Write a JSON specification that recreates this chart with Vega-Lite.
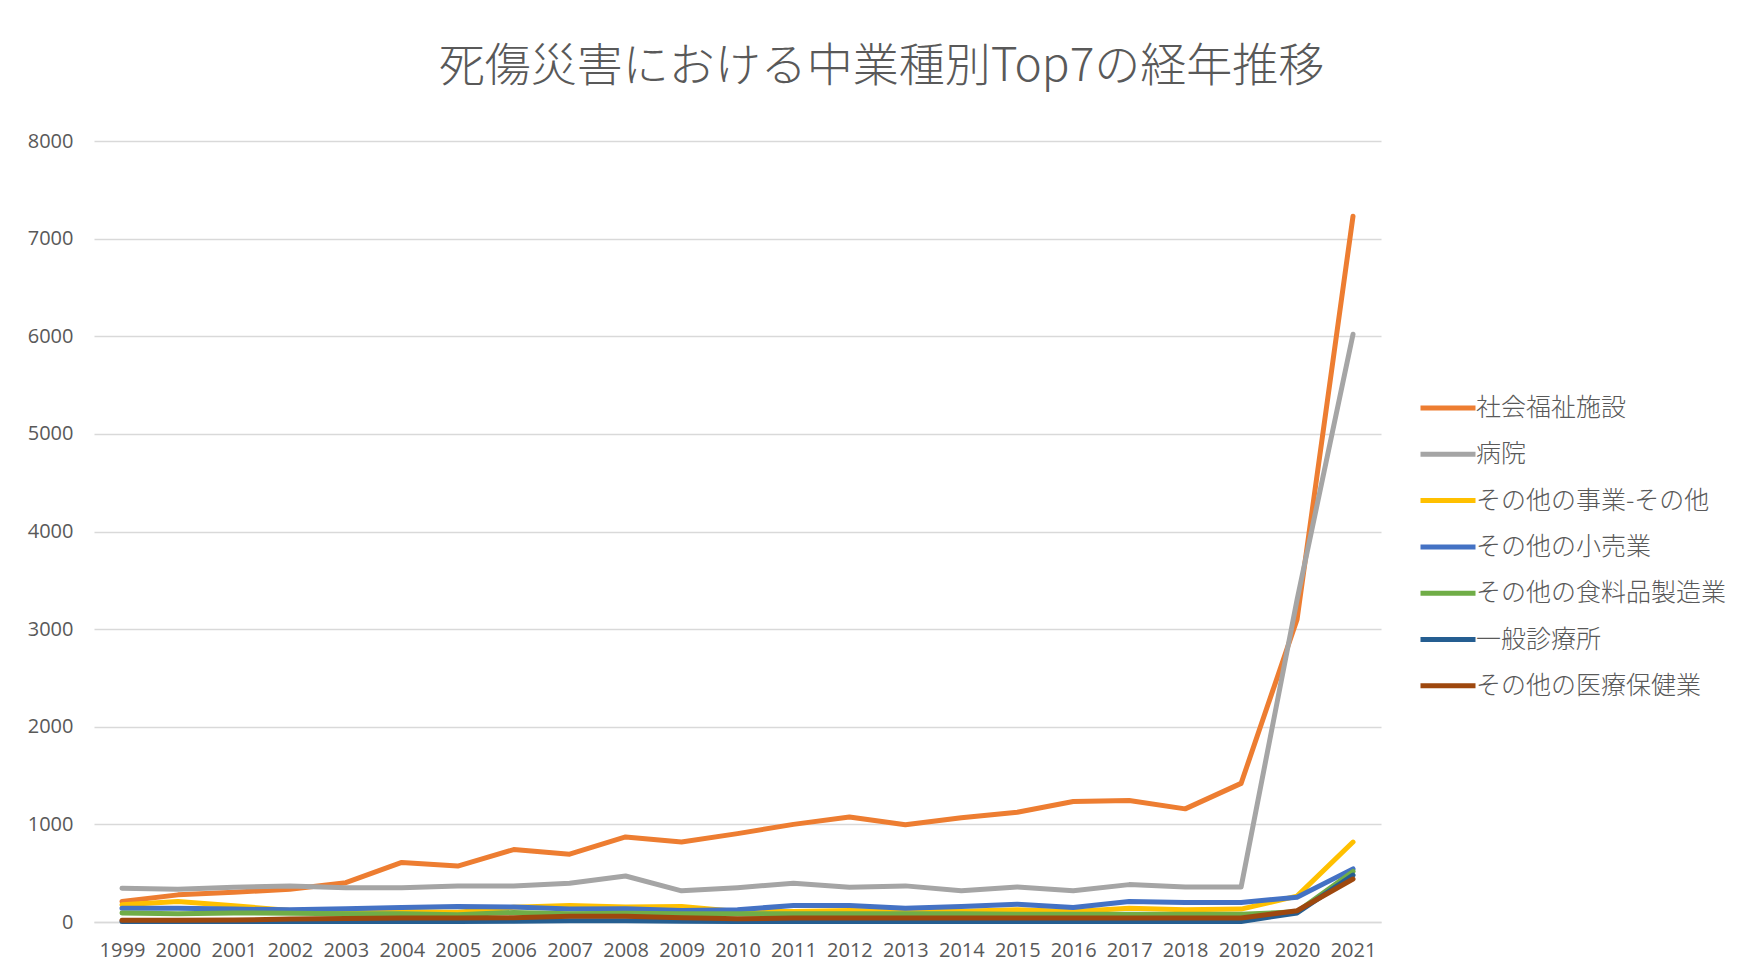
{
  "$schema": "https://vega.github.io/schema/vega-lite/v6.json",
  "autosize": {"type": "none"},
  "width": 1287,
  "height": 781,
  "padding": {"left": 94, "top": 141, "right": 357, "bottom": 56},
  "background": "white",
  "title": {
    "text": "死傷災害における中業種別Top7の経年推移",
    "font": "Noto Sans CJK JP",
    "fontSize": 46,
    "fontWeight": 300,
    "color": "#595959",
    "anchor": "middle",
    "dx": 144,
    "offset": 40
  },
  "config": {
    "view": {"stroke": null},
    "axis": {
      "labelFont": "Open Sans",
      "labelFontSize": 20,
      "labelColor": "#595959",
      "ticks": false,
      "title": null
    }
  },
  "data": {
    "values": [
      {"year": "1999", "series": "社会福祉施設", "value": 210},
      {"year": "2000", "series": "社会福祉施設", "value": 278},
      {"year": "2001", "series": "社会福祉施設", "value": 305},
      {"year": "2002", "series": "社会福祉施設", "value": 335},
      {"year": "2003", "series": "社会福祉施設", "value": 403},
      {"year": "2004", "series": "社会福祉施設", "value": 610},
      {"year": "2005", "series": "社会福祉施設", "value": 573},
      {"year": "2006", "series": "社会福祉施設", "value": 742},
      {"year": "2007", "series": "社会福祉施設", "value": 695},
      {"year": "2008", "series": "社会福祉施設", "value": 871},
      {"year": "2009", "series": "社会福祉施設", "value": 820},
      {"year": "2010", "series": "社会福祉施設", "value": 905},
      {"year": "2011", "series": "社会福祉施設", "value": 1000},
      {"year": "2012", "series": "社会福祉施設", "value": 1075},
      {"year": "2013", "series": "社会福祉施設", "value": 997},
      {"year": "2014", "series": "社会福祉施設", "value": 1068},
      {"year": "2015", "series": "社会福祉施設", "value": 1125},
      {"year": "2016", "series": "社会福祉施設", "value": 1234},
      {"year": "2017", "series": "社会福祉施設", "value": 1244},
      {"year": "2018", "series": "社会福祉施設", "value": 1159},
      {"year": "2019", "series": "社会福祉施設", "value": 1420},
      {"year": "2020", "series": "社会福祉施設", "value": 3100},
      {"year": "2021", "series": "社会福祉施設", "value": 7230},

      {"year": "1999", "series": "病院", "value": 346},
      {"year": "2000", "series": "病院", "value": 336},
      {"year": "2001", "series": "病院", "value": 356},
      {"year": "2002", "series": "病院", "value": 370},
      {"year": "2003", "series": "病院", "value": 352},
      {"year": "2004", "series": "病院", "value": 352},
      {"year": "2005", "series": "病院", "value": 370},
      {"year": "2006", "series": "病院", "value": 370},
      {"year": "2007", "series": "病院", "value": 397},
      {"year": "2008", "series": "病院", "value": 471},
      {"year": "2009", "series": "病院", "value": 319},
      {"year": "2010", "series": "病院", "value": 352},
      {"year": "2011", "series": "病院", "value": 397},
      {"year": "2012", "series": "病院", "value": 356},
      {"year": "2013", "series": "病院", "value": 370},
      {"year": "2014", "series": "病院", "value": 319},
      {"year": "2015", "series": "病院", "value": 359},
      {"year": "2016", "series": "病院", "value": 319},
      {"year": "2017", "series": "病院", "value": 383},
      {"year": "2018", "series": "病院", "value": 359},
      {"year": "2019", "series": "病院", "value": 359},
      {"year": "2020", "series": "病院", "value": 3300},
      {"year": "2021", "series": "病院", "value": 6020},

      {"year": "1999", "series": "その他の事業-その他", "value": 176},
      {"year": "2000", "series": "その他の事業-その他", "value": 210},
      {"year": "2001", "series": "その他の事業-その他", "value": 166},
      {"year": "2002", "series": "その他の事業-その他", "value": 119},
      {"year": "2003", "series": "その他の事業-その他", "value": 108},
      {"year": "2004", "series": "その他の事業-その他", "value": 108},
      {"year": "2005", "series": "その他の事業-その他", "value": 100},
      {"year": "2006", "series": "その他の事業-その他", "value": 150},
      {"year": "2007", "series": "その他の事業-その他", "value": 170},
      {"year": "2008", "series": "その他の事業-その他", "value": 153},
      {"year": "2009", "series": "その他の事業-その他", "value": 160},
      {"year": "2010", "series": "その他の事業-その他", "value": 108},
      {"year": "2011", "series": "その他の事業-その他", "value": 108},
      {"year": "2012", "series": "その他の事業-その他", "value": 119},
      {"year": "2013", "series": "その他の事業-その他", "value": 110},
      {"year": "2014", "series": "その他の事業-その他", "value": 110},
      {"year": "2015", "series": "その他の事業-その他", "value": 125},
      {"year": "2016", "series": "その他の事業-その他", "value": 108},
      {"year": "2017", "series": "その他の事業-その他", "value": 142},
      {"year": "2018", "series": "その他の事業-その他", "value": 125},
      {"year": "2019", "series": "その他の事業-その他", "value": 132},
      {"year": "2020", "series": "その他の事業-その他", "value": 265},
      {"year": "2021", "series": "その他の事業-その他", "value": 819},

      {"year": "1999", "series": "その他の小売業", "value": 142},
      {"year": "2000", "series": "その他の小売業", "value": 142},
      {"year": "2001", "series": "その他の小売業", "value": 132},
      {"year": "2002", "series": "その他の小売業", "value": 125},
      {"year": "2003", "series": "その他の小売業", "value": 135},
      {"year": "2004", "series": "その他の小売業", "value": 149},
      {"year": "2005", "series": "その他の小売業", "value": 160},
      {"year": "2006", "series": "その他の小売業", "value": 153},
      {"year": "2007", "series": "その他の小売業", "value": 132},
      {"year": "2008", "series": "その他の小売業", "value": 135},
      {"year": "2009", "series": "その他の小売業", "value": 119},
      {"year": "2010", "series": "その他の小売業", "value": 125},
      {"year": "2011", "series": "その他の小売業", "value": 170},
      {"year": "2012", "series": "その他の小売業", "value": 170},
      {"year": "2013", "series": "その他の小売業", "value": 142},
      {"year": "2014", "series": "その他の小売業", "value": 160},
      {"year": "2015", "series": "その他の小売業", "value": 183},
      {"year": "2016", "series": "その他の小売業", "value": 149},
      {"year": "2017", "series": "その他の小売業", "value": 210},
      {"year": "2018", "series": "その他の小売業", "value": 200},
      {"year": "2019", "series": "その他の小売業", "value": 200},
      {"year": "2020", "series": "その他の小売業", "value": 254},
      {"year": "2021", "series": "その他の小売業", "value": 544},

      {"year": "1999", "series": "その他の食料品製造業", "value": 92},
      {"year": "2000", "series": "その他の食料品製造業", "value": 85},
      {"year": "2001", "series": "その他の食料品製造業", "value": 92},
      {"year": "2002", "series": "その他の食料品製造業", "value": 90},
      {"year": "2003", "series": "その他の食料品製造業", "value": 85},
      {"year": "2004", "series": "その他の食料品製造業", "value": 85},
      {"year": "2005", "series": "その他の食料品製造業", "value": 75},
      {"year": "2006", "series": "その他の食料品製造業", "value": 98},
      {"year": "2007", "series": "その他の食料品製造業", "value": 85},
      {"year": "2008", "series": "その他の食料品製造業", "value": 90},
      {"year": "2009", "series": "その他の食料品製造業", "value": 85},
      {"year": "2010", "series": "その他の食料品製造業", "value": 85},
      {"year": "2011", "series": "その他の食料品製造業", "value": 85},
      {"year": "2012", "series": "その他の食料品製造業", "value": 85},
      {"year": "2013", "series": "その他の食料品製造業", "value": 85},
      {"year": "2014", "series": "その他の食料品製造業", "value": 85},
      {"year": "2015", "series": "その他の食料品製造業", "value": 80},
      {"year": "2016", "series": "その他の食料品製造業", "value": 80},
      {"year": "2017", "series": "その他の食料品製造業", "value": 80},
      {"year": "2018", "series": "その他の食料品製造業", "value": 80},
      {"year": "2019", "series": "その他の食料品製造業", "value": 80},
      {"year": "2020", "series": "その他の食料品製造業", "value": 104},
      {"year": "2021", "series": "その他の食料品製造業", "value": 518},

      {"year": "1999", "series": "一般診療所", "value": 5},
      {"year": "2000", "series": "一般診療所", "value": 5},
      {"year": "2001", "series": "一般診療所", "value": 5},
      {"year": "2002", "series": "一般診療所", "value": 5},
      {"year": "2003", "series": "一般診療所", "value": 5},
      {"year": "2004", "series": "一般診療所", "value": 5},
      {"year": "2005", "series": "一般診療所", "value": 5},
      {"year": "2006", "series": "一般診療所", "value": 8},
      {"year": "2007", "series": "一般診療所", "value": 14},
      {"year": "2008", "series": "一般診療所", "value": 14},
      {"year": "2009", "series": "一般診療所", "value": 8},
      {"year": "2010", "series": "一般診療所", "value": 5},
      {"year": "2011", "series": "一般診療所", "value": 5},
      {"year": "2012", "series": "一般診療所", "value": 5},
      {"year": "2013", "series": "一般診療所", "value": 5},
      {"year": "2014", "series": "一般診療所", "value": 5},
      {"year": "2015", "series": "一般診療所", "value": 5},
      {"year": "2016", "series": "一般診療所", "value": 5},
      {"year": "2017", "series": "一般診療所", "value": 5},
      {"year": "2018", "series": "一般診療所", "value": 5},
      {"year": "2019", "series": "一般診療所", "value": 5},
      {"year": "2020", "series": "一般診療所", "value": 93},
      {"year": "2021", "series": "一般診療所", "value": 480},

      {"year": "1999", "series": "その他の医療保健業", "value": 17},
      {"year": "2000", "series": "その他の医療保健業", "value": 17},
      {"year": "2001", "series": "その他の医療保健業", "value": 20},
      {"year": "2002", "series": "その他の医療保健業", "value": 30},
      {"year": "2003", "series": "その他の医療保健業", "value": 37},
      {"year": "2004", "series": "その他の医療保健業", "value": 40},
      {"year": "2005", "series": "その他の医療保健業", "value": 40},
      {"year": "2006", "series": "その他の医療保健業", "value": 44},
      {"year": "2007", "series": "その他の医療保健業", "value": 58},
      {"year": "2008", "series": "その他の医療保健業", "value": 58},
      {"year": "2009", "series": "その他の医療保健業", "value": 44},
      {"year": "2010", "series": "その他の医療保健業", "value": 34},
      {"year": "2011", "series": "その他の医療保健業", "value": 40},
      {"year": "2012", "series": "その他の医療保健業", "value": 40},
      {"year": "2013", "series": "その他の医療保健業", "value": 40},
      {"year": "2014", "series": "その他の医療保健業", "value": 40},
      {"year": "2015", "series": "その他の医療保健業", "value": 40},
      {"year": "2016", "series": "その他の医療保健業", "value": 40},
      {"year": "2017", "series": "その他の医療保健業", "value": 40},
      {"year": "2018", "series": "その他の医療保健業", "value": 40},
      {"year": "2019", "series": "その他の医療保健業", "value": 40},
      {"year": "2020", "series": "その他の医療保健業", "value": 115},
      {"year": "2021", "series": "その他の医療保健業", "value": 440}
    ]
  },
  "mark": {"type": "line", "strokeWidth": 5, "strokeCap": "round", "strokeJoin": "round"},
  "encoding": {
    "x": {
      "field": "year",
      "type": "ordinal",
      "scale": {"type": "point", "padding": 0.5},
      "axis": {
        "labelAngle": 0,
        "labelPadding": 18,
        "domainColor": "#D9D9D9",
        "domainWidth": 1.5,
        "grid": false
      }
    },
    "y": {
      "field": "value",
      "type": "quantitative",
      "scale": {"domain": [0, 8000], "nice": false},
      "axis": {
        "values": [0, 1000, 2000, 3000, 4000, 5000, 6000, 7000, 8000],
        "format": "d",
        "domain": false,
        "labelPadding": 21,
        "gridColor": "#D9D9D9",
        "gridWidth": 1.5
      }
    },
    "color": {
      "field": "series",
      "type": "nominal",
      "sort": ["社会福祉施設", "病院", "その他の事業-その他", "その他の小売業", "その他の食料品製造業", "一般診療所", "その他の医療保健業"],
      "scale": {
        "domain": ["社会福祉施設", "病院", "その他の事業-その他", "その他の小売業", "その他の食料品製造業", "一般診療所", "その他の医療保健業"],
        "range": ["#ED7D31", "#A5A5A5", "#FFC000", "#4472C4", "#70AD47", "#255E91", "#9E480E"]
      },
      "legend": {
        "title": null,
        "orient": "none",
        "legendX": 1324,
        "legendY": 237,
        "padding": 0,
        "symbolType": "stroke",
        "symbolSize": 3025,
        "symbolStrokeWidth": 5,
        "labelFont": "Noto Sans CJK JP",
        "labelFontSize": 25,
        "labelFontWeight": 300,
        "labelColor": "#595959",
        "labelOffset": -2,
        "labelLimit": 400,
        "rowPadding": 3.3
      }
    }
  }
}
